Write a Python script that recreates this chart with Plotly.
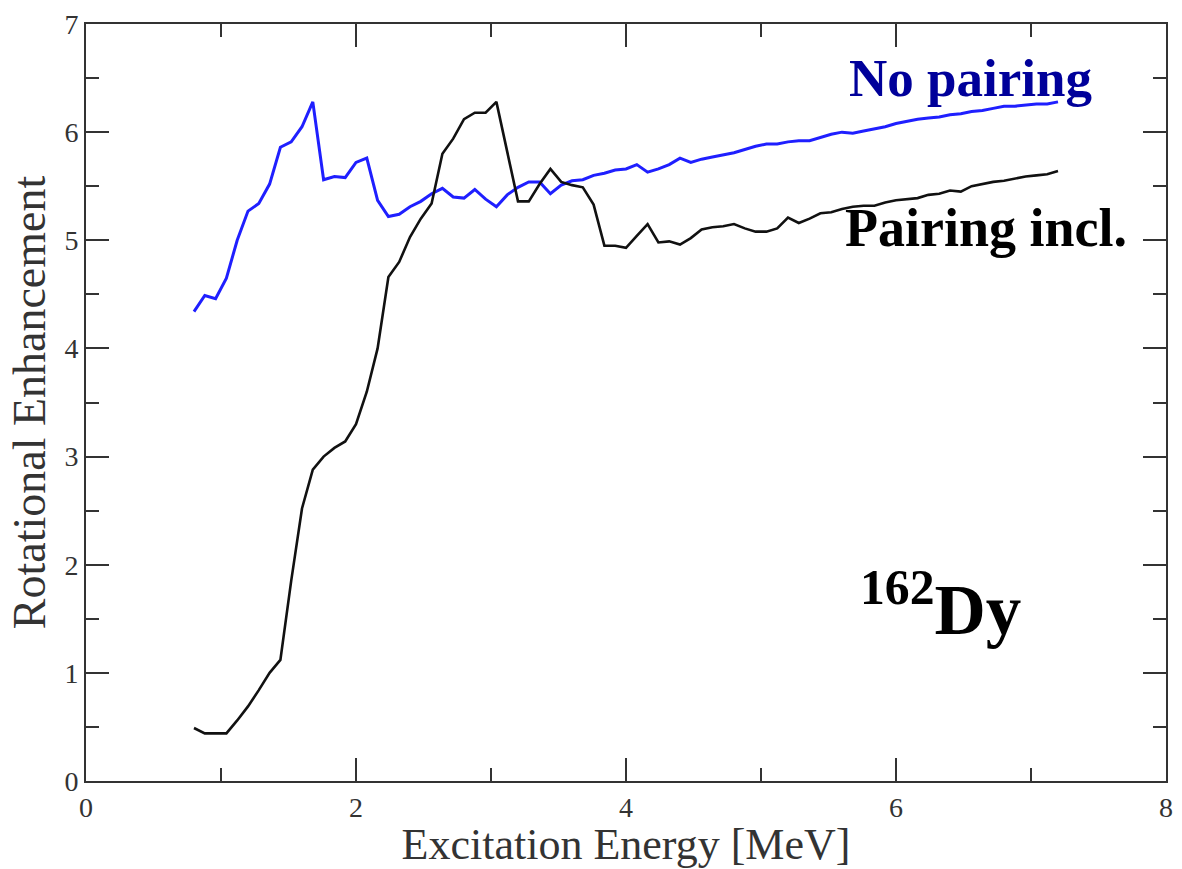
import plotly.graph_objects as go

energy = [0.80, 0.88, 0.96, 1.04, 1.12, 1.20, 1.28, 1.36, 1.44, 1.52,
          1.60, 1.68, 1.76, 1.84, 1.92, 2.00, 2.08, 2.16, 2.24, 2.32,
          2.40, 2.48, 2.56, 2.64, 2.72, 2.80, 2.88, 2.96, 3.04, 3.12,
          3.20, 3.28, 3.36, 3.44, 3.52, 3.60, 3.68, 3.76, 3.84, 3.92,
          4.00, 4.08, 4.16, 4.24, 4.32, 4.40, 4.48, 4.56, 4.64, 4.72,
          4.80, 4.88, 4.96, 5.04, 5.12, 5.20, 5.28, 5.36, 5.44, 5.52,
          5.60, 5.68, 5.76, 5.84, 5.92, 6.00, 6.08, 6.16, 6.24, 6.32,
          6.40, 6.48, 6.56, 6.64, 6.72, 6.80, 6.88, 6.96, 7.04, 7.12,
          7.20]

no_pairing = [4.34, 4.49, 4.46, 4.65, 5.00, 5.27, 5.34, 5.52, 5.86, 5.91,
              6.05, 6.28, 5.56, 5.59, 5.58, 5.72, 5.76, 5.37, 5.22, 5.24,
              5.31, 5.36, 5.43, 5.48, 5.40, 5.39, 5.47, 5.38, 5.31, 5.42,
              5.49, 5.54, 5.54, 5.43, 5.51, 5.55, 5.56, 5.60, 5.62, 5.65,
              5.66, 5.70, 5.63, 5.66, 5.70, 5.76, 5.72, 5.75, 5.77, 5.79,
              5.81, 5.84, 5.87, 5.89, 5.89, 5.91, 5.92, 5.92, 5.95, 5.98,
              6.00, 5.99, 6.01, 6.03, 6.05, 6.08, 6.10, 6.12, 6.13, 6.14,
              6.16, 6.17, 6.19, 6.20, 6.22, 6.24, 6.24, 6.25, 6.26, 6.26,
              6.28]

pairing = [0.49, 0.44, 0.44, 0.44, 0.56, 0.69, 0.84, 1.00, 1.12, 1.85,
           2.52, 2.88, 3.00, 3.08, 3.14, 3.30, 3.60, 4.00, 4.66, 4.80,
           5.03, 5.20, 5.34, 5.80, 5.94, 6.12, 6.18, 6.18, 6.28, 5.82,
           5.36, 5.36, 5.52, 5.66, 5.54, 5.51, 5.49, 5.33, 4.95, 4.95,
           4.93, 5.04, 5.15, 4.98, 4.99, 4.96, 5.02, 5.10, 5.12, 5.13,
           5.15, 5.11, 5.08, 5.08, 5.11, 5.21, 5.16, 5.20, 5.25, 5.26,
           5.29, 5.31, 5.32, 5.32, 5.35, 5.37, 5.38, 5.39, 5.42, 5.43,
           5.46, 5.45, 5.50, 5.52, 5.54, 5.55, 5.57, 5.59, 5.60, 5.61,
           5.64]

x_ticks = [0, 2, 4, 6, 8]
y_ticks = [0, 1, 2, 3, 4, 5, 6, 7]

SERIF = "Liberation Serif, Times New Roman, serif"
AX = "#333333"

fig = go.Figure()
fig.add_trace(go.Scatter(x=energy, y=no_pairing, mode="lines",
                         line=dict(color="#1f1fff", width=3), name="No pairing"))
fig.add_trace(go.Scatter(x=energy, y=pairing, mode="lines",
                         line=dict(color="#111111", width=2.6), name="Pairing incl."))

axis_common = dict(
    showgrid=False, zeroline=False, showline=True, linecolor=AX, linewidth=2,
    mirror="allticks", ticks="inside", ticklen=23, tickwidth=2, tickcolor=AX,
    tickfont=dict(family=SERIF, size=28, color=AX),
)

fig.update_xaxes(range=[0, 8], tickvals=x_ticks,
                 minor=dict(dtick=1, ticklen=13, tickwidth=2, tickcolor=AX, ticks="inside"),
                 title=dict(text="Excitation Energy [MeV]", standoff=6,
                            font=dict(family=SERIF, size=44, color=AX)),
                 **axis_common)
fig.update_yaxes(range=[0, 7], tickvals=y_ticks,
                 minor=dict(dtick=0.5, ticklen=13, tickwidth=2, tickcolor=AX, ticks="inside"),
                 title=dict(text="Rotational Enhancement", standoff=4,
                            font=dict(family=SERIF, size=46, color=AX)),
                 ticklabelstandoff=0,
                 **axis_common)

fig.add_annotation(x=5.64, y=6.50, xref="x", yref="y", text="<b>No pairing</b>",
                   showarrow=False, xanchor="left", yanchor="middle",
                   font=dict(family=SERIF, size=53, color="#00009a"))
fig.add_annotation(x=5.61, y=5.11, xref="x", yref="y", text="<b>Pairing incl.</b>",
                   showarrow=False, xanchor="left", yanchor="middle",
                   font=dict(family=SERIF, size=54, color="#000000"))
fig.add_annotation(x=5.72, y=1.63, xref="x", yref="y", text="<b><sup>162</sup>Dy</b>",
                   showarrow=False, xanchor="left", yanchor="middle",
                   font=dict(family=SERIF, size=71, color="#000000"))

fig.update_layout(
    width=1182, height=869,
    margin=dict(l=86, r=9, t=20, b=88),
    paper_bgcolor="white", plot_bgcolor="white",
    showlegend=False,
)

fig.write_html("out.html")
